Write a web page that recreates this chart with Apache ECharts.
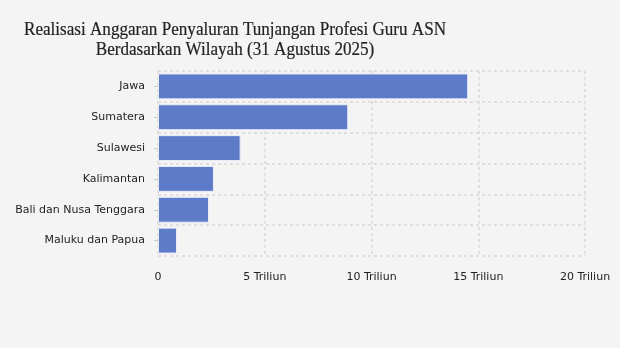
<!DOCTYPE html>
<html><head><meta charset="utf-8">
<script src="https://cdn.jsdelivr.net/npm/echarts@6/dist/echarts.min.js"></script>
<style>html,body{margin:0;padding:0;background:#f4f4f4}#c{width:620px;height:348px}</style>
</head><body><div id="c"></div>
<script>
const categories = ['Jawa','Sumatera','Sulawesi','Kalimantan','Bali dan Nusa Tenggara','Maluku dan Papua'];
const values = [14.53, 8.91, 3.87, 2.62, 2.39, 0.89];
const tickLabels = ['0','5 Triliun','10 Triliun','15 Triliun','20 Triliun'];
const titleLines = ['Realisasi Anggaran Penyaluran Tunjangan Profesi Guru ASN','Berdasarkan Wilayah (31 Agustus 2025)'];

const titleStyle = {font:'normal 19px "Liberation Serif"', fill:'#222', stroke:'#222', lineWidth:0.2, textAlign:'center', textVerticalAlign:'top'};
const chart = echarts.init(document.getElementById('c'));
chart.setOption({
  backgroundColor:'#f4f4f4',
  animation:false,
  graphic: titleLines.map((t,i)=>({
    type:'text', x:235, y:21 + i*20, scaleX:0.9, silent:true,
    style:Object.assign({text:t}, titleStyle)
  })),
  grid:{left:158, right:35, top:71, bottom:92, containLabel:false},
  xAxis:{
    type:'value', min:0, max:20, interval:5,
    axisLine:{show:false}, axisTick:{show:false},
    axisLabel:{color:'#222', fontSize:11, fontFamily:'DejaVu Sans', margin:16,
      formatter:(v)=>tickLabels[Math.round(v/5)]},
    splitLine:{show:true, lineStyle:{color:'#dfdfdf', type:[3,3], width:2}}
  },
  yAxis:{
    type:'category', data:categories, inverse:true,
    axisLine:{show:false},
    axisTick:{show:true, alignWithLabel:true, length:4, lineStyle:{color:'#cccccc'}},
    axisLabel:{color:'#222', fontSize:11, fontFamily:'DejaVu Sans', margin:13},
    splitLine:{show:true, lineStyle:{color:'#dfdfdf', type:[3,3], width:2}}
  },
  series:[{
    type:'bar', data:values, barCategoryGap:'16%',
    itemStyle:{color:'#5e7bca', borderColor:'#e8ecf6', borderWidth:1}
  }]
});
</script></body></html>
